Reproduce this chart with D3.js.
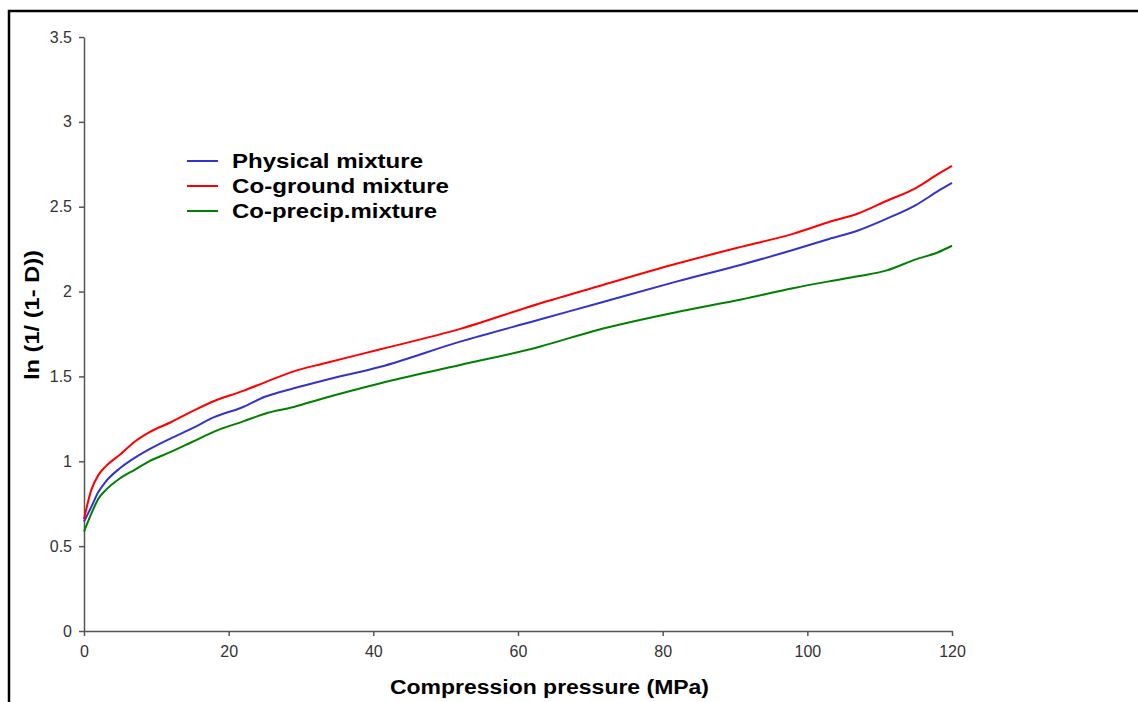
<!DOCTYPE html>
<html><head><meta charset="utf-8">
<script src="https://cdn.jsdelivr.net/npm/d3@7"></script>
<style>body{margin:0;background:#fff}svg{display:block}</style>
</head><body>
<svg id="c" width="1138" height="702"></svg>
<script>
const pressure = [0, 1, 2, 3, 5, 7, 9, 12, 15, 18, 22, 25, 29, 33, 41, 52, 63, 71, 82, 91, 98, 103, 107, 111, 115, 118, 120];
const physical = [0.645, 0.73, 0.82, 0.88, 0.96, 1.02, 1.07, 1.135, 1.195, 1.26, 1.32, 1.38, 1.43, 1.475, 1.557, 1.705, 1.835, 1.93, 2.06, 2.16, 2.245, 2.31, 2.36, 2.43, 2.51, 2.59, 2.64];
const coground = [0.66, 0.83, 0.92, 0.97, 1.04, 1.115, 1.17, 1.23, 1.295, 1.355, 1.415, 1.465, 1.53, 1.575, 1.66, 1.78, 1.93, 2.03, 2.165, 2.265, 2.34, 2.41, 2.46, 2.535, 2.61, 2.69, 2.74];
const coprecip = [0.585, 0.69, 0.78, 0.83, 0.90, 0.95, 1.0, 1.055, 1.115, 1.175, 1.235, 1.28, 1.32, 1.37, 1.46, 1.567, 1.675, 1.774, 1.88, 1.955, 2.02, 2.06, 2.09, 2.125, 2.19, 2.23, 2.27];
const seriesNames = ["Physical mixture", "Co-ground mixture", "Co-precip.mixture"];
const seriesColors = ["#3333cc", "#ff0000", "#008000"];
const xTicks = [0, 20, 40, 60, 80, 100, 120];
const yTicks = [0, 0.5, 1, 1.5, 2, 2.5, 3, 3.5];

const FONT = "Liberation Sans, Arial, sans-serif";
const svg = d3.select("#c");
svg.append("rect").attr("x", 9).attr("y", 11).attr("width", 1300).attr("height", 900)
  .attr("fill", "none").attr("stroke", "#000").attr("stroke-width", 2.5);

const x = d3.scaleLinear().domain([0, 120]).range([84, 952]);
const y = d3.scaleLinear().domain([0, 3.5]).range([631, 37]);

const ax = svg.append("g").attr("transform", "translate(0,631)")
  .call(d3.axisBottom(x).tickValues(xTicks).tickSize(5).tickSizeOuter(0).tickPadding(10));
const ay = svg.append("g").attr("transform", "translate(84,0)")
  .call(d3.axisLeft(y).tickValues(yTicks).tickSize(5).tickSizeOuter(0).tickPadding(7).tickFormat(d => String(d)));
[ax, ay].forEach(g => {
  g.attr("font-size", null).attr("font-family", null);
  g.selectAll("path,line").attr("stroke", "#555").attr("stroke-width", 1.5);
  g.selectAll("text").attr("fill", "#333").attr("font-family", FONT).attr("font-size", 16);
});

const line = d3.line().x(d => x(d[0])).y(d => y(d[1])).curve(d3.curveMonotoneX);
[physical, coground, coprecip].forEach((vals, i) => {
  svg.append("path").datum(pressure.map((p, j) => [p, vals[j]]))
    .attr("d", line).attr("fill", "none").attr("stroke", seriesColors[i]).attr("stroke-width", 2);
});

const legLens = [191, 217, 205];
const leg = svg.append("g");
seriesNames.forEach((n, i) => {
  const yy = 161 + i * 25;
  leg.append("line").attr("x1", 187).attr("x2", 218).attr("y1", yy).attr("y2", yy)
    .attr("stroke", seriesColors[i]).attr("stroke-width", 2);
  leg.append("text").attr("x", 232).attr("y", yy + 7).text(n)
    .attr("textLength", legLens[i]).attr("lengthAdjust", "spacingAndGlyphs")
    .style("font-family", FONT).style("font-weight", "bold").style("font-size", "20px").attr("fill", "#000");
});

svg.append("text").attr("x", 390).attr("y", 694)
  .text("Compression pressure (MPa)")
  .attr("textLength", 319).attr("lengthAdjust", "spacingAndGlyphs")
  .style("font-family", FONT).style("font-weight", "bold").style("font-size", "20px");
svg.append("text").attr("transform", "translate(39,380) rotate(-90)")
  .text("ln (1/ (1- D))")
  .attr("textLength", 130).attr("lengthAdjust", "spacingAndGlyphs")
  .style("font-family", FONT).style("font-weight", "bold").style("font-size", "20px");
</script>
</body></html>
